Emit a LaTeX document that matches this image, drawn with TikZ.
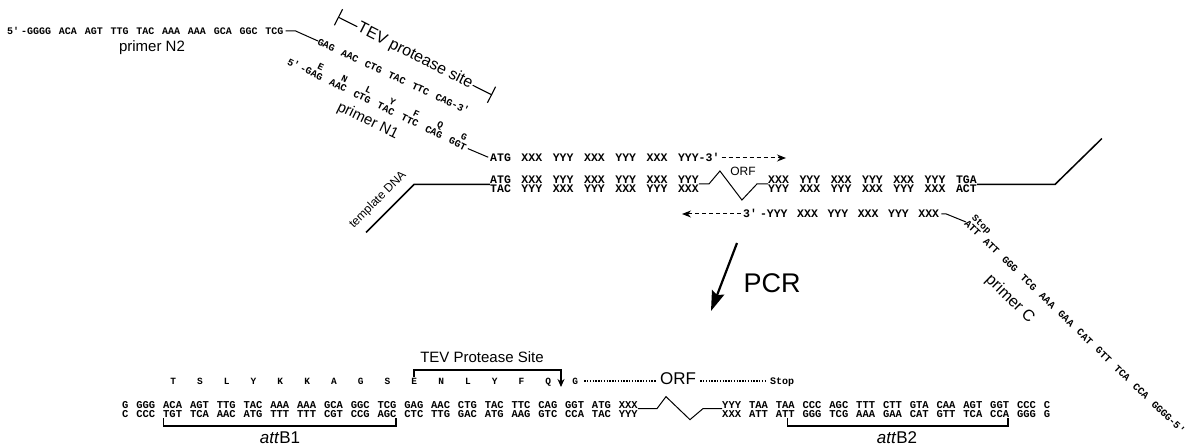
\documentclass[tikz,border=0pt]{standalone}
\usepackage{fontspec}
\setmainfont{Liberation Sans}
\newfontfamily\seqfont{Liberation Mono}
\usetikzlibrary{arrows.meta, calc}
\tikzset{
    % sequence styles
    seqtext/.style={
        inner sep=0pt,
        text height=6.6pt,
        text depth=0pt,
        font={\seqfont\bfseries\fontsize{10}{10}\selectfont\spaceskip=#1\relax}
    },
    seqtext/.default=7.8pt,
    midtext/.style={
        inner sep=0pt,
        text height=7.6pt,
        text depth=0pt,
        font={\seqfont\bfseries\fontsize{11.5}{11.5}\selectfont\spaceskip=#1\relax}
    },
    midtext/.default=10.6pt,
    lowtext/.style={
        inner sep=0pt,
        text height=6.9pt,
        text depth=0pt,
        font={\seqfont\bfseries\fontsize{10.5}{10.5}\selectfont\spaceskip=7.9pt\relax}
    },
    aatext/.style={
        inner sep=0pt,
        text height=6.2pt,
        text depth=0pt,
        font=\seqfont\bfseries\fontsize{9.5}{9.5}\selectfont
    },
    % label styles
    lbltext/.style={
        inner sep=1pt,
        font=\fontsize{15}{15}\selectfont
    },
    % line styles
    strand/.style={line width=1pt},
    dnaline/.style={line width=1.5pt},
    bracketline/.style={line width=1.1pt},
    dasharrow/.style={
        line width=1pt,
        dash pattern=on 4pt off 3pt,
        -{Stealth[length=9pt,width=7pt]}
    },
    dotline/.style={line width=1.2pt, dash pattern=on 1.4pt off 1.4pt},
    pcrarrow/.style={line width=2.2pt, -{Stealth[length=20pt,width=13pt,inset=3pt]}}
}
\begin{document}
\begin{tikzpicture}[x=1pt, y=-1pt]
    \useasboundingbox (0,0) rectangle (1190,446);

    % Primer N2
    \node[seqtext, anchor=west] (n2) at (7,31) {5'\kern2pt-GGGG ACA AGT TTG TAC AAA AAA GCA GGC TCG};
    \node[lbltext] (n2lab) at (152,48) {primer N2};
    \begin{scope}[shift={(318,41)}, rotate=-25, transform shape]
        \node[seqtext=8pt, anchor=west] (n2tail) at (0,0) {GAG AAC CTG TAC TTC CAG-3'};
    \end{scope}
    \draw[strand, shorten <=2pt] (n2.east) -- ++(12,0) -- (n2tail.west);

    % TEV site on the primer
    \draw[bracketline, {Bar[width=18pt]}-{Bar[width=18pt]}] (338,17) -- (492,95)
        node[midway, sloped, fill=white, lbltext, font=\fontsize{16}{16}\selectfont] (tevtop) {TEV protease site};

    % Primer N1
    \begin{scope}[shift={(288,61)}, rotate=-26, transform shape]
        \node[seqtext=8.6pt, anchor=west] (n1) at (0,0) {5'\kern2pt-GAG AAC CTG TAC TTC CAG GGT};
        \foreach \aa [count=\i from 0] in {E,N,L,Y,F,Q,G}
            \node[aatext] (n1aa\i) at ({32+26.6*\i},-9) {\aa};
        \node[lbltext] (n1lab) at (98,19) {primer N1};
    \end{scope}

    % New strand from N1
    \node[midtext, anchor=west] (rowa) at (490,158) {ATG XXX YYY XXX YYY XXX YYY-3'};
    \draw[strand, shorten <=2pt, shorten >=2pt] (n1.east) -- (rowa.west);
    \coordinate (rowatip) at (786,158);
    \draw[dasharrow, shorten <=2pt] (rowa.east) -- (rowatip);

    % Template DNA
    \node[midtext, anchor=west] (tmpl1) at (490,180) {ATG XXX YYY XXX YYY XXX YYY};
    \node[midtext, anchor=west] (tmpl2) at (490,189) {TAC YYY XXX YYY XXX YYY XXX};
    \node[midtext, anchor=west] (tmpr1) at (768,180) {XXX YYY XXX YYY XXX YYY TGA};
    \node[midtext, anchor=west] (tmpr2) at (768,189) {YYY XXX YYY XXX YYY XXX ACT};
    \draw[strand] (tmpl1.south east) -- ++(10,0) -- ++(11,-13) -- ++(22,29) -- ++(15,-16) -- (tmpr1.south west);
    \node[lbltext, font=\fontsize{12}{12}\selectfont] (orfmid) at (743,171) {ORF};
    \coordinate (tl) at ($(tmpl1.south west)!.5!(tmpl2.north west)$);
    \coordinate (tr) at ($(tmpr1.south east)!.5!(tmpr2.north east)$);
    \draw[dnaline] (tl) -- ++(-76,0) -- ++(-48,48);
    \draw[dnaline] (tr) -- ++(78,0) -- ++(47,-46);
    \node[lbltext, font=\fontsize{12}{12}\selectfont, rotate=45] (tmplab) at (378,200) {template DNA};

    % New strand from primer C
    \node[midtext=9.6pt, anchor=west] (rowc) at (743,214) {3'\kern3pt-YYY XXX YYY XXX YYY XXX};
    \coordinate (rowctip) at (682,214);
    \draw[dasharrow, shorten <=2pt] (rowc.west) -- (rowctip);

    % Primer C
    \begin{scope}[shift={(966,222)}, rotate=-44, transform shape]
        \node[seqtext=8pt, anchor=west] (pc) at (0,0) {ATT ATT GGG TCG AAA GAA CAT GTT TCA CCA GGGG-5'};
        \node[aatext] (pcstop) at (13,-9) {Stop};
        \node[lbltext, font=\fontsize{16}{16}\selectfont] (pclab) at (85,25) {primer C};
    \end{scope}
    \draw[strand, shorten <=2pt] (rowc.east) -- ++(7,0) -- (pc.west);

    % PCR
    \coordinate (pcrtail) at (737,243);
    \coordinate (pcrtip) at (711,311);
    \draw[pcrarrow] (pcrtail) -- (pcrtip);
    \node[font=\fontsize{27}{27}\selectfont] (pcr) at (772,283) {PCR};

    % PCR product
    \foreach \aa [count=\i from 0] in {T,S,L,Y,K,K,A,G,S,E,N,L,Y,F,Q,G}
        \node[aatext] (aa\i) at ({173.1+26.8*\i},381) {\aa};
    \node[lowtext, anchor=west] (pl1) at (122,405) {G GGG ACA AGT TTG TAC AAA AAA GCA GGC TCG GAG AAC CTG TAC TTC CAG GGT ATG XXX};
    \node[lowtext, anchor=west] (pl2) at (122,414) {C CCC TGT TCA AAC ATG TTT TTT CGT CCG AGC CTC TTG GAC ATG AAG GTC CCA TAC YYY};
    \node[lowtext, anchor=west] (pr1) at (722,405) {YYY TAA TAA CCC AGC TTT CTT GTA CAA AGT GGT CCC C};
    \node[lowtext, anchor=west] (pr2) at (722,414) {XXX ATT ATT GGG TCG AAA GAA CAT GTT TCA CCA GGG G};
    \draw[strand] (pl1.south east) -- ++(19,0) -- ++(9,-12) -- ++(24,23) -- ++(13,-11) -- (pr1.south west);

    % TEV site on the product
    \coordinate (tevl) at (414,377);
    \coordinate (tevr) at (561,387);
    \draw[bracketline, -{Stealth[length=8pt,width=7pt]}] (tevl) -- ++(0,-7) -- ($(tevr)+(0,-17)$) -- (tevr);
    \node[lbltext] (tevlab) at (482,357) {TEV Protease Site};

    % ORF and stop
    \node[lbltext, font=\fontsize{17}{17}\selectfont] (orflow) at (678,379) {ORF};
    \node[seqtext, anchor=west] (stoplow) at (770,381) {Stop};
    \draw[dotline, shorten <=6pt, shorten >=3pt] (aa15.east) -- (aa15.east -| orflow.west);
    \draw[dotline, shorten <=3pt, shorten >=5pt] (aa15.east -| orflow.east) -- (stoplow.west);

    % attB sites
    \draw[bracketline] (163.6,418) -- (163.6,426) -- (396,426) -- (396,418);
    \node[lbltext, font=\fontsize{17}{17}\selectfont] (attb1) at (280,438) {\textit{att}B1};
    \draw[bracketline] (787.6,418) -- (787.6,426) -- (1008,426) -- (1008,418);
    \node[lbltext, font=\fontsize{17}{17}\selectfont] (attb2) at (897,438) {\textit{att}B2};
\end{tikzpicture}
\end{document}
